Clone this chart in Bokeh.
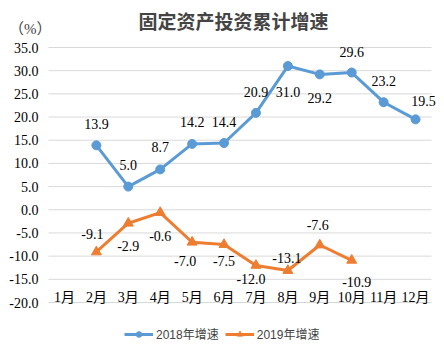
from bokeh.plotting import figure
from bokeh.models import ColumnDataSource, Range1d, Legend, LegendItem, Label
from bokeh.core.properties import value
from bokeh.embed import file_html
from bokeh.resources import INLINE

months = ["1月", "2月", "3月", "4月", "5月", "6月", "7月", "8月", "9月", "10月", "11月", "12月"]
months_2018 = ["2月", "3月", "4月", "5月", "6月", "7月", "8月", "9月", "10月", "11月", "12月"]
growth_2018 = [13.9, 5.0, 8.7, 14.2, 14.4, 20.9, 31.0, 29.2, 29.6, 23.2, 19.5]
months_2019 = ["2月", "3月", "4月", "5月", "6月", "7月", "8月", "9月", "10月"]
growth_2019 = [-9.1, -2.9, -0.6, -7.0, -7.5, -12.0, -13.1, -7.6, -10.9]
y_ticks = [-20, -15, -10, -5, 0, 5, 10, 15, 20, 25, 30, 35]
series_names = ["2018年增速", "2019年增速"]
title_text = "固定资产投资累计增速"
unit_text = "（%）"

BLUE = "#5B9BD5"
ORANGE = "#ED7D31"
SERIF = "Liberation Serif, Noto Sans CJK SC"
SANS = "Liberation Sans, Noto Sans CJK SC"

# Page layout: the frame fills the page; the gridded plot area spans
# x 48..431 px and y 47..302 px (35.0 line to -20.0 line).
W, H = 444, 352
AREA_L, AREA_R, AREA_T, AREA_B = 48, 431, 47, 302
slot = (AREA_R - AREA_L) / len(months)
x_lo, x_hi = 0.5, len(months) + 0.5          # category slots 1..12
px_per_unit = (AREA_B - AREA_T) / (y_ticks[-1] - y_ticks[0])

p = figure(width=W, height=H, output_backend="svg", toolbar_location=None,
           x_range=Range1d(x_lo - AREA_L / slot, x_hi + (W - AREA_R) / slot),
           y_range=Range1d(y_ticks[0] - (H - AREA_B) / px_per_unit,
                           y_ticks[-1] + AREA_T / px_per_unit),
           x_axis_location=None, y_axis_location=None,
           min_border_left=0, min_border_right=0, min_border_top=0, min_border_bottom=0)
p.outline_line_color = None
p.xgrid.visible = False
p.ygrid.visible = False

# horizontal gridlines across the plot area
p.segment(x0=[x_lo] * len(y_ticks), x1=[x_hi] * len(y_ticks), y0=y_ticks, y1=y_ticks,
          line_color="#D9D9D9", line_width=1)

# value-axis labels
ytick_src = ColumnDataSource(dict(x=[x_lo] * len(y_ticks), y=y_ticks,
                                  t=[f"{v:.1f}" for v in y_ticks]))
p.text("x", "y", text="t", source=ytick_src, x_offset=-10, text_align="right",
       text_baseline="middle", text_font=value(SERIF), text_font_size="14px",
       text_color="#000000")

# category labels sitting on the bottom gridline
month_pos = {m: i + 1 for i, m in enumerate(months)}
cat_src = ColumnDataSource(dict(x=[month_pos[m] for m in months],
                                y=[y_ticks[0]] * len(months), t=months))
p.text("x", "y", text="t", source=cat_src, y_offset=-5, text_align="center",
       text_baseline="middle", text_font=value(SERIF), text_font_size="14px",
       text_color="#000000")

s18 = ColumnDataSource(dict(x=[month_pos[m] for m in months_2018], y=growth_2018,
                            t=[f"{v:.1f}" for v in growth_2018]))
s19 = ColumnDataSource(dict(x=[month_pos[m] for m in months_2019], y=growth_2019,
                            t=[f"{v:.1f}" for v in growth_2019]))

l18 = p.line("x", "y", source=s18, line_color=BLUE, line_width=3)
m18 = p.scatter("x", "y", source=s18, marker="circle", size=9, fill_color=BLUE, line_color=BLUE)
l19 = p.line("x", "y", source=s19, line_color=ORANGE, line_width=3)
m19 = p.scatter("x", "y", source=s19, marker="triangle", size=10, fill_color=ORANGE, line_color=ORANGE)

# data-label placement (pixel offsets, screen y downwards)
off18_x = [0, 0, 0, 0, 0, 0, 0, 0, 0, 0, 8]
off18_y = [-21, -22, -22, -22, -21, -21, 26, 24, -21, -21, -18]
off19_x = [-4, 0, 0, -7, 0, -5, -1, -2, 5]
off19_y = [-18, 23, 23, 19, 16, 14, -13, -20, 22]
s18.data["ox"] = off18_x
s18.data["oy"] = off18_y
s19.data["ox"] = off19_x
s19.data["oy"] = off19_y
for src in (s18, s19):
    p.text("x", "y", text="t", source=src, x_offset="ox", y_offset="oy",
           text_align="center", text_baseline="middle",
           text_font=value(SERIF), text_font_size="14px", text_color="#000000")

legend = Legend(items=[LegendItem(label=series_names[0], renderers=[l18, m18]),
                       LegendItem(label=series_names[1], renderers=[l19, m19])],
                orientation="horizontal", location=(124, 10),
                label_text_font=SANS, label_text_font_size="12px",
                glyph_width=29, glyph_height=14, spacing=6, padding=2, margin=0,
                label_standoff=3,
                border_line_color=None, background_fill_alpha=0)
p.add_layout(legend)

p.add_layout(Label(x=233, y=H - 20, x_units="screen", y_units="screen", text=title_text,
                   text_align="center", text_baseline="middle",
                   text_font="Noto Sans CJK SC", text_font_style="bold", text_font_size="19px"))
p.add_layout(Label(x=51, y=H - 28, x_units="screen", y_units="screen", text=unit_text,
                   text_align="right", text_baseline="middle",
                   text_font=SERIF, text_font_size="15px"))

open("out.html", "w").write(file_html(p, INLINE))
